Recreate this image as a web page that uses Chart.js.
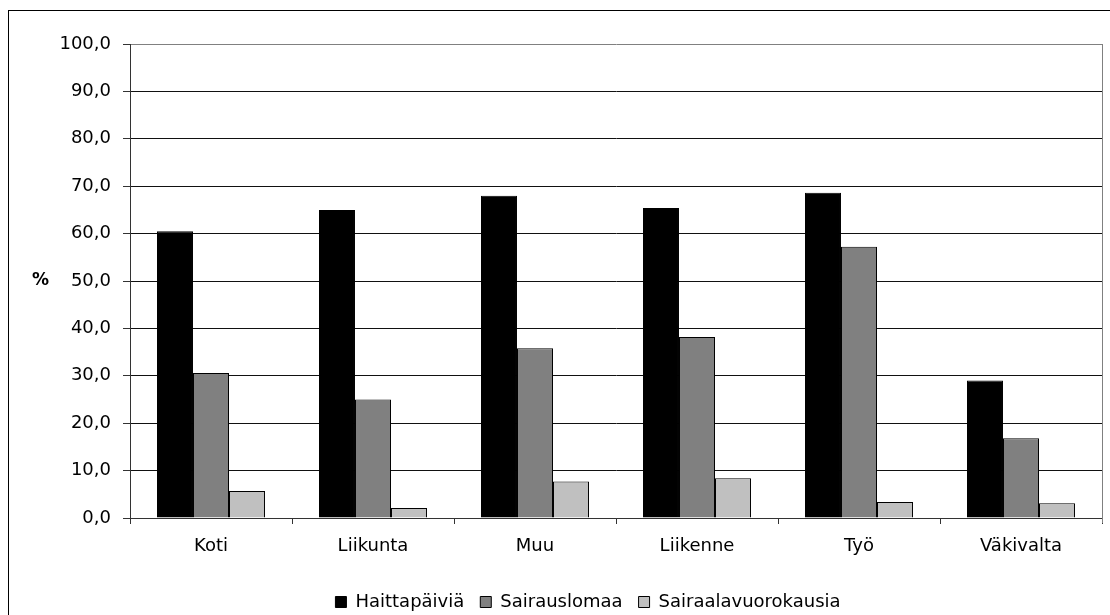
<!DOCTYPE html>
<html>
<head>
<meta charset="utf-8">
<script src="https://cdn.jsdelivr.net/npm/chart.js@4/dist/chart.umd.min.js"></script>
<style>
  html, body { margin: 0; padding: 0; background: #fff; overflow: hidden; }
  #frame { position: absolute; left: 8px; top: 10px; width: 1200px; height: 700px;
           border-left: 1px solid #000; border-top: 1px solid #000; }
  #c { position: absolute; left: 0; top: 0; }
</style>
</head>
<body>
<div id="frame"></div>
<canvas id="c" width="1110" height="615"></canvas>
<script>
const categories = ['Koti', 'Liikunta', 'Muu', 'Liikenne', 'Työ', 'Väkivalta'];
const seriesNames = ['Haittapäiviä', 'Sairauslomaa', 'Sairaalavuorokausia'];
const haittapaivia = [60.5, 65.0, 68.0, 65.4, 68.6, 29.0];
const sairauslomaa = [30.6, 25.0, 35.8, 38.2, 57.2, 16.8];
const sairaalavuorokausia = [5.7, 2.1, 7.7, 8.4, 3.4, 3.1];
const yTickValues = [0, 10, 20, 30, 40, 50, 60, 70, 80, 90, 100];
const yTickLabels = ['0,0', '10,0', '20,0', '30,0', '40,0', '50,0', '60,0', '70,0', '80,0', '90,0', '100,0'];
const yAxisTitle = '%';

const FONT = 'DejaVu Sans';
const LEGEND_LEFT = 74;

const extras = {
  id: 'extras',
  afterLayout(chart) {
    if (chart.legend) { chart.legend.left = LEGEND_LEFT; }
  },
  afterDraw(chart) {
    const {ctx, chartArea, scales} = chart;
    ctx.save();
    ctx.strokeStyle = '#808080';
    ctx.lineWidth = 1;
    ctx.beginPath();
    ctx.moveTo(Math.round(chartArea.right) + 0.5, chartArea.top);
    ctx.lineTo(Math.round(chartArea.right) + 0.5, chartArea.bottom + 5);
    ctx.stroke();
    ctx.fillStyle = '#000';
    ctx.font = 'bold 17px "' + FONT + '"';
    ctx.textAlign = 'center';
    ctx.textBaseline = 'middle';
    ctx.fillText(yAxisTitle, 40.5, scales.y.getPixelForValue(50));
    ctx.restore();
  }
};

new Chart(document.getElementById('c'), {
  type: 'bar',
  data: {
    labels: categories,
    datasets: [
      { label: seriesNames[0], data: haittapaivia, backgroundColor: '#000000', borderColor: '#000000', borderWidth: 1 },
      { label: seriesNames[1], data: sairauslomaa, backgroundColor: '#808080', borderColor: '#000000', borderWidth: 1 },
      { label: seriesNames[2], data: sairaalavuorokausia, backgroundColor: '#c0c0c0', borderColor: '#000000', borderWidth: 1 }
    ]
  },
  options: {
    responsive: false,
    animation: false,
    devicePixelRatio: 1,
    categoryPercentage: 0.667,
    barPercentage: 1.0,
    layout: { padding: { left: 0, right: 8, top: 44, bottom: 0 } },
    font: { family: FONT, size: 18 },
    plugins: {
      legend: {
        position: 'bottom',
        maxHeight: 38,
        labels: {
          color: '#000',
          font: { family: FONT, size: 18 },
          boxWidth: 11,
          boxHeight: 11,
          padding: 16
        }
      },
      tooltip: { enabled: false }
    },
    scales: {
      x: {
        grid: { display: true, drawOnChartArea: false, drawTicks: true, tickLength: 6, tickColor: '#333', offset: true },
        border: { display: true, color: '#333', width: 1 },
        ticks: { color: '#000', font: { family: FONT, size: 18 }, padding: 12, maxRotation: 0 },
        afterFit(s) { s.height = 59; }
      },
      y: {
        min: 0,
        max: 100,
        afterBuildTicks(s) { s.ticks = yTickValues.map(v => ({ value: v })); },
        grid: {
          color: (c) => (c.tick && c.tick.value === 100) ? '#808080' : '#111',
          tickColor: '#333',
          tickLength: 7,
          lineWidth: 1
        },
        border: { display: true, color: '#333', width: 1 },
        ticks: {
          color: '#000',
          font: { family: FONT, size: 18 },
          padding: 12,
          callback: (v) => yTickLabels[yTickValues.indexOf(v)]
        },
        afterFit(s) { s.width = 130; }
      }
    }
  },
  plugins: [extras]
});
</script>
</body>
</html>
